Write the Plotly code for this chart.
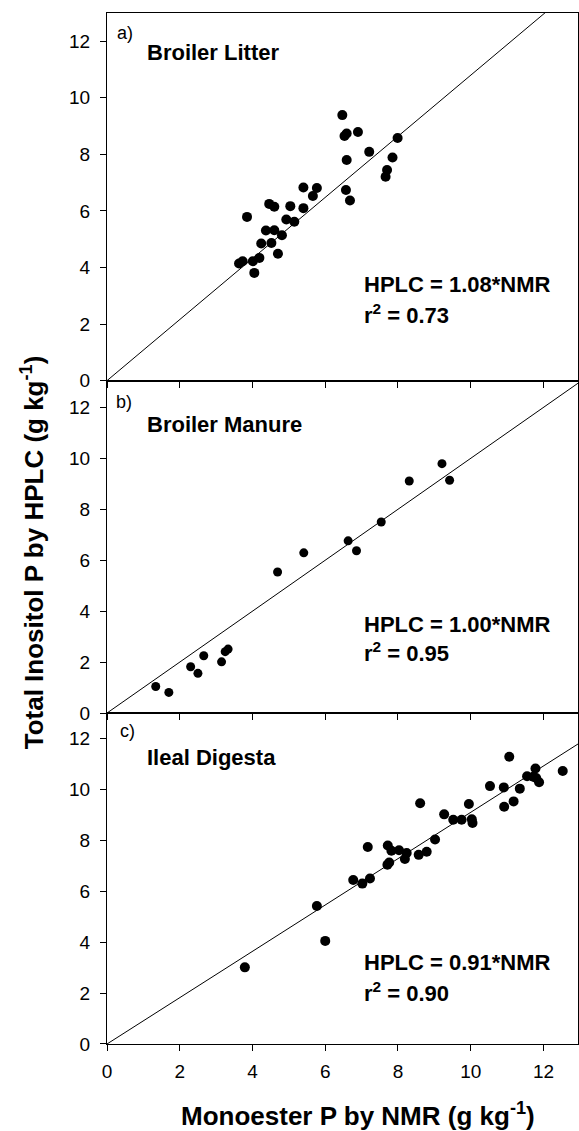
import plotly.graph_objects as go

# ---- data ----
litter_nmr = [6.47, 6.53, 6.59, 6.90, 7.99, 7.21, 6.59, 7.85, 7.70, 7.66, 6.57, 6.68,
              5.40, 5.77, 5.66, 5.40, 5.04, 4.46, 4.60, 3.85, 4.93, 5.15, 4.37, 4.60,
              4.81, 4.24, 4.52, 4.70, 4.19, 4.01, 3.73, 3.63, 4.05]
litter_hplc = [9.39, 8.65, 8.74, 8.79, 8.58, 8.09, 7.80, 7.89, 7.45, 7.21, 6.74, 6.37,
               6.83, 6.81, 6.53, 6.10, 6.17, 6.25, 6.15, 5.79, 5.70, 5.62, 5.31, 5.32,
               5.14, 4.85, 4.87, 4.49, 4.34, 4.22, 4.22, 4.14, 3.81]

manure_nmr = [1.34, 1.70, 2.30, 2.50, 2.66, 3.15, 3.25, 3.33, 4.69, 5.41, 6.63, 6.86,
              7.54, 8.31, 9.21, 9.42]
manure_hplc = [1.04, 0.81, 1.82, 1.56, 2.25, 2.01, 2.41, 2.51, 5.54, 6.29, 6.76, 6.37,
               7.50, 9.11, 9.79, 9.14]

digesta_nmr = [3.79, 5.77, 6.00, 6.77, 7.02, 7.23, 7.17, 7.72, 7.82, 8.03, 8.24, 8.19,
               7.71, 7.76, 8.57, 8.79, 9.02, 9.27, 9.52, 9.75, 9.95, 10.03, 10.05, 8.61,
               10.53, 10.91, 10.92, 11.18, 11.35, 11.06, 11.55, 11.72, 11.78, 11.88,
               11.80, 12.53]
digesta_hplc = [3.01, 5.42, 4.05, 6.44, 6.30, 6.50, 7.74, 7.80, 7.59, 7.61, 7.50, 7.27,
                7.04, 7.13, 7.43, 7.55, 8.03, 9.02, 8.81, 8.81, 9.43, 8.83, 8.68, 9.46,
                10.13, 10.08, 9.32, 9.53, 10.03, 11.28, 10.52, 10.50, 10.82, 10.28,
                10.45, 10.72]

panel_letters = ["a)", "b)", "c)"]
panel_names = ["Broiler Litter", "Broiler Manure", "Ileal Digesta"]
slopes = [1.08, 1.00, 0.91]
r2_values = [0.73, 0.95, 0.90]
tick_vals = [0, 2, 4, 6, 8, 10, 12]
x_title = "Monoester P by NMR (g kg<sup>-1</sup>)"
y_title = "Total Inositol P by HPLC (g kg<sup>-1</sup>)"

FONT = "Arial, 'Liberation Sans', Helvetica, sans-serif"
X_MAX = 12.95
y_max = [13.0, 13.05, 13.0]
domains = [[0.6434, 1.0], [0.321, 0.6434], [0.0, 0.321]]
marker_sizes = [10, 9, 10]

series = [(litter_nmr, litter_hplc), (manure_nmr, manure_hplc), (digesta_nmr, digesta_hplc)]

fig = go.Figure()
for i, (xs, ys) in enumerate(series):
    xa = "x" if i == 0 else f"x{i+1}"
    ya = "y" if i == 0 else f"y{i+1}"
    fig.add_trace(go.Scatter(x=[0, X_MAX], y=[0, slopes[i] * X_MAX], mode="lines",
                             line=dict(color="black", width=1), xaxis=xa, yaxis=ya,
                             showlegend=False, hoverinfo="skip"))
    fig.add_trace(go.Scatter(x=xs, y=ys, mode="markers",
                             marker=dict(color="black", size=marker_sizes[i], line=dict(width=0)),
                             xaxis=xa, yaxis=ya, showlegend=False))

layout = dict(
    width=579, height=1131,
    margin=dict(l=107, r=1, t=13, b=87),
    paper_bgcolor="white", plot_bgcolor="white",
    font=dict(family=FONT, color="black"),
)

ann = []
letter_y = [12.3, 12.2, 12.28]
letter_x = [0.23, 0.18, 0.31]
name_y = [11.62, 11.33, 11.27]
eq_y = [3.39, 3.49, 3.2]
r2_y = [2.37, 2.39, 2.06]

for i in range(3):
    sfx = "" if i == 0 else str(i + 1)
    layout["xaxis" + sfx] = dict(
        domain=[0, 1], anchor="y" + sfx, range=[0, X_MAX],
        tickvals=tick_vals, ticks="outside", ticklen=6, tickwidth=1, tickcolor="black",
        showticklabels=(i == 2), tickfont=dict(size=19, family=FONT, color="black"),
        ticklabelstandoff=4,
        showline=True, linecolor="black", linewidth=1, mirror=True,
        showgrid=False, zeroline=False,
    )
    layout["yaxis" + sfx] = dict(
        domain=domains[i], anchor="x" + sfx, range=[0, y_max[i]],
        tickvals=tick_vals, ticks="outside", ticklen=6, tickwidth=1, tickcolor="black",
        tickfont=dict(size=19, family=FONT, color="black"),
        ticklabelstandoff=6,
        showline=True, linecolor="black", linewidth=1, mirror=True,
        showgrid=False, zeroline=False,
    )
    xr = "x" + sfx
    yr = "y" + sfx
    ann.append(dict(x=letter_x[i], y=letter_y[i], xref=xr, yref=yr, text=panel_letters[i],
                    showarrow=False, xanchor="left", yanchor="middle",
                    font=dict(size=18, family=FONT, color="black")))
    ann.append(dict(x=1.05, y=name_y[i], xref=xr, yref=yr, text="<b>%s</b>" % panel_names[i],
                    showarrow=False, xanchor="left", yanchor="middle",
                    font=dict(size=22, family=FONT, color="black")))
    ann.append(dict(x=7.0, y=eq_y[i], xref=xr, yref=yr,
                    text="<b>HPLC = %.2f*NMR</b>" % slopes[i],
                    showarrow=False, xanchor="left", yanchor="middle",
                    font=dict(size=22, family=FONT, color="black")))
    ann.append(dict(x=7.0, y=r2_y[i], xref=xr, yref=yr,
                    text="<b>r<sup>2</sup> = %.2f</b>" % r2_values[i],
                    showarrow=False, xanchor="left", yanchor="middle",
                    font=dict(size=22, family=FONT, color="black")))

ann.append(dict(x=0.533, y=-0.068, xref="paper", yref="paper", text="<b>%s</b>" % x_title,
                showarrow=False, xanchor="center", yanchor="middle",
                font=dict(size=26, family=FONT, color="black")))
ann.append(dict(x=-0.159, y=0.477, xref="paper", yref="paper", text="<b>%s</b>" % y_title,
                showarrow=False, xanchor="center", yanchor="middle", textangle=-90,
                font=dict(size=26, family=FONT, color="black")))

layout["annotations"] = ann
fig.update_layout(**layout)
fig.write_html("out.html", config={"displayModeBar": False},
               post_script="document.body.style.margin='0';document.body.style.padding='0';"
                           "document.documentElement.style.overflow='hidden';")
